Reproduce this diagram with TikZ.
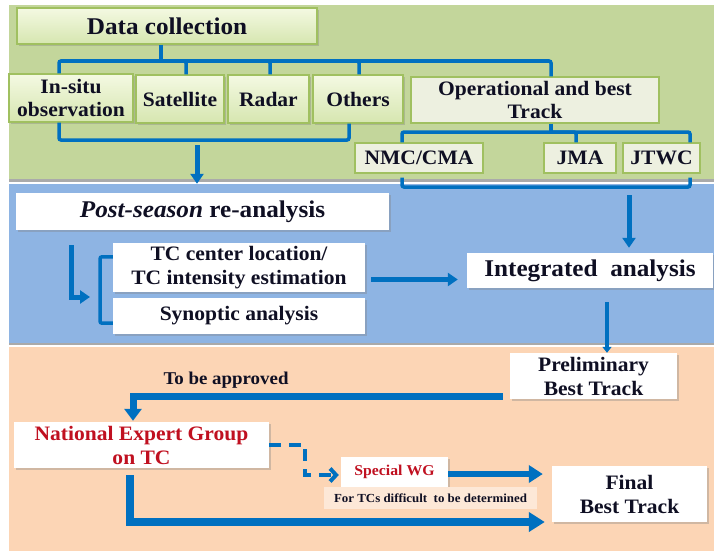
\documentclass[tikz,border=0pt]{standalone}
\usepackage{fontspec}
\setmainfont{Liberation Serif}[FakeStretch=1.05]
\usepackage{xcolor}
\usetikzlibrary{arrows.meta,shadows}

\definecolor{bandgreen}{RGB}{195,214,155}
\definecolor{bandblue}{RGB}{142,180,227}
\definecolor{bandpeach}{RGB}{252,213,181}
\definecolor{bandrule}{RGB}{170,170,170}
\definecolor{linkblue}{RGB}{0,112,192}
\definecolor{boxrim}{RGB}{160,192,96}
\definecolor{boxtop}{RGB}{244,249,226}
\definecolor{boxbot}{RGB}{214,230,176}
\definecolor{boxgray}{RGB}{237,240,224}
\definecolor{inkdark}{RGB}{15,15,35}
\definecolor{expertred}{RGB}{192,16,32}
\definecolor{notepeach}{RGB}{253,232,215}

\tikzset{
    boxshadow/.style={drop shadow={shadow xshift=2pt, shadow yshift=-2pt, opacity=0.35}},
    srcbox/.style={draw=boxrim, line width=1.3pt, top color=boxtop, bottom color=boxbot,
        align=center, inner sep=0pt, text=inkdark, boxshadow,
        font=\fontsize{20.5}{23}\selectfont\bfseries},
    agencybox/.style={draw=boxrim, line width=1.3pt, fill=boxgray, align=center,
        inner sep=0pt, text=inkdark, font=\fontsize{20.5}{23}\selectfont\bfseries},
    whitebox/.style={fill=white, align=center, inner sep=0pt, text=inkdark, boxshadow,
        font=\fontsize{20.5}{24}\selectfont\bfseries},
    link/.style={draw=linkblue, line width=3.5pt, rounded corners=2pt},
    flow/.style={draw=linkblue, line width=5pt, -{Triangle[length=10pt,width=13pt]}},
    bigflow/.style={draw=linkblue, line width=7pt, -{Triangle[length=12pt,width=17pt]}}
}

\begin{document}
\begin{tikzpicture}[x=1pt,y=-1pt]
    \useasboundingbox (0,0) rectangle (714,551);
    \fill[bandgreen] (9,5) rectangle (714,179);
    \fill[bandrule] (9,179) rectangle (714,182);
    \fill[bandblue] (9,184) rectangle (714,343);
    \fill[bandrule] (9,343) rectangle (714,345);
    \fill[bandpeach] (9,347) rectangle (714,551);

    % data sources
    \node[srcbox, minimum width=300pt, minimum height=36pt, font=\fontsize{24}{26}\selectfont\bfseries] (datacol) at (167,26) {Data collection};
    \node[srcbox, minimum width=124pt, minimum height=48pt] (insitu) at (71,98) {In-situ\\observation};
    \node[srcbox, minimum width=88pt, minimum height=48pt] (satellite) at (180,99) {Satellite};
    \node[srcbox, minimum width=81pt, minimum height=48pt] (radar) at (268.5,99) {Radar};
    \node[srcbox, minimum width=90pt, minimum height=48pt] (others) at (358,99) {Others};
    \node[agencybox, minimum width=248pt, minimum height=46pt] (optrack) at (535,100) {Operational and best\\Track};
    \node[agencybox, minimum width=128pt, minimum height=30pt] (nmc) at (419,158) {NMC/CMA};
    \node[agencybox, minimum width=72pt, minimum height=30pt] (jma) at (580,158) {JMA};
    \node[agencybox, minimum width=77pt, minimum height=30pt] (jtwc) at (661.5,158) {JTWC};

    % analysis
    \node[whitebox, minimum width=373pt, minimum height=37pt, font=\fontsize{24}{26}\selectfont\bfseries] (postseason) at (202.5,211.5) {\textit{Post-season} re-analysis};
    \node[whitebox, minimum width=252pt, minimum height=49pt] (tccenter) at (239,267.5) {TC center location/\\TC intensity estimation};
    \node[whitebox, minimum width=252pt, minimum height=36pt] (synoptic) at (239,316) {Synoptic analysis};
    \node[whitebox, minimum width=246pt, minimum height=35pt, font=\fontsize{24}{26}\selectfont\bfseries] (integrated) at (590,270.5) {Integrated\ \ analysis};

    % best track
    \node[whitebox, minimum width=167pt, minimum height=46pt] (prelim) at (593.5,376) {Preliminary\\Best Track};
    \node[whitebox, minimum width=255pt, minimum height=46pt, text=expertred] (national) at (141.5,445) {National Expert Group\\on TC};
    \node[whitebox, minimum width=107pt, minimum height=30pt, text=expertred, font=\fontsize{15}{17}\selectfont\bfseries] (specialwg) at (394.5,472) {Special WG};
    \node[fill=notepeach, minimum width=213pt, minimum height=22pt, inner sep=0pt, text=inkdark, font=\fontsize{12.3}{14}\selectfont\bfseries] (difficult) at (430.5,498) {For TCs difficult \ to be determined};
    \node[whitebox, minimum width=155pt, minimum height=56pt] (final) at (629.5,494) {Final\\Best Track};
    \node[text=inkdark, font=\fontsize{18}{20}\selectfont\bfseries] (approved) at (226,380) {To be approved};

    % brackets
    \coordinate (bus1) at (161,61);
    \coordinate (bus2) at (197,140);
    \coordinate (bus3) at (551,132);
    \coordinate (bus4) at (629,187);
    \coordinate (brk) at (100,297);
    \draw[link] (datacol.south -| bus1) -- (bus1);
    \draw[link] ([xshift=-12pt]insitu.north) |- (bus1) -| ([xshift=16pt]optrack.north);
    \foreach \b/\dx in {satellite/6,radar/1.5,others/1}
        \draw[link] ([xshift=\dx pt]\b.north) |- (bus1);
    \draw[link] ([xshift=-12pt]insitu.south) |- (bus2) -| ([xshift=-9pt]others.south);
    \draw[link] (optrack.south -| bus3) -- (bus3);
    \draw[link] ([xshift=-17pt]nmc.north) |- (bus3) -| ([xshift=28.5pt]jtwc.north);
    \draw[link] ([xshift=-4pt]jma.north) |- (bus3);
    \draw[link] ([xshift=-17pt,yshift=-4pt]nmc.south) |- (bus4) -| ([xshift=28.5pt,yshift=-4pt]jtwc.south);
    \draw[link] ([yshift=-14pt]tccenter.north west) -| (brk) |- ([yshift=11pt]synoptic.south west);

    % arrows
    \draw[flow, shorten >=9pt] ([yshift=-5pt]bus2) -- (bus2 |- postseason.north);
    \draw[flow, shorten >=5pt] ([yshift=-8pt]bus4) -- (bus4 |- integrated.north);
    \draw[flow, shorten >=10pt] ([xshift=56pt,yshift=-15pt]postseason.south west) |- (brk);
    \coordinate (tcout) at ([xshift=6pt,yshift=-12pt]tccenter.east);
    \draw[flow, shorten >=9pt] (tcout) -- (tcout -| integrated.west);
    \draw[flow, line width=4pt, -{Triangle[length=6pt,width=9pt]}] ([xshift=17pt,yshift=-14pt]integrated.south) -- ([xshift=13.5pt]prelim.north);
    \draw[bigflow, shorten >=1pt] ([xshift=-7pt,yshift=-20pt]prelim.west) -| ([xshift=-8.5pt]national.north);
    \draw[draw=linkblue, line width=4pt, dash pattern=on 12pt off 8pt, -{Straight Barb[length=6pt,width=13pt]}, shorten >=2pt] (national.east) -- ++(36,0) |- ([yshift=-3pt]specialwg.west);
    \draw[flow, line width=6pt, -{Triangle[length=14pt,width=17pt]}, shorten >=9pt] ([yshift=-2pt]specialwg.east) -- ([yshift=-2pt]specialwg.east -| final.west);
    \draw[bigflow, line width=8pt, -{Triangle[length=16pt,width=19pt]}, shorten >=7pt] ([xshift=-11.5pt,yshift=-7pt]national.south) |- ([yshift=-28pt]final.west);
\end{tikzpicture}
\end{document}
